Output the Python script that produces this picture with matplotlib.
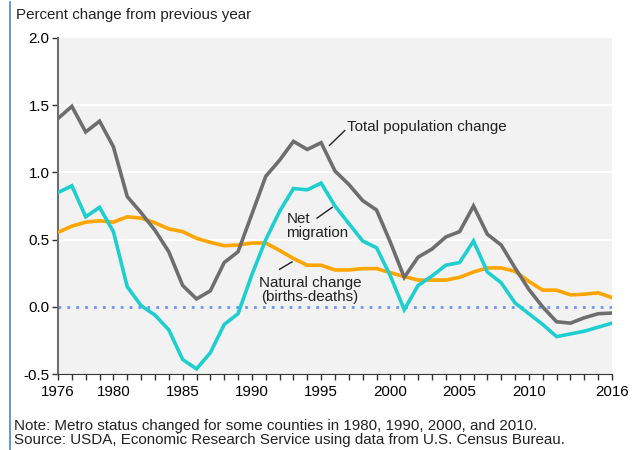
import matplotlib
matplotlib.use("Agg")
import matplotlib.pyplot as plt
from matplotlib.ticker import MultipleLocator

plt.rcParams["font.family"] = ["Liberation Sans", "DejaVu Sans"]

years = list(range(1976, 2017))

total_change = [1.40, 1.49, 1.30, 1.38, 1.19, 0.82, 0.70, 0.57, 0.41, 0.16,
                0.06, 0.12, 0.33, 0.41, 0.69, 0.97, 1.09, 1.23, 1.17, 1.22,
                1.01, 0.91, 0.79, 0.72, 0.48, 0.22, 0.37, 0.43, 0.52, 0.56,
                0.75, 0.54, 0.46, 0.29, 0.13, 0.00, -0.11, -0.12, -0.08, -0.05,
                -0.045]

net_migration = [0.85, 0.90, 0.67, 0.74, 0.56, 0.15, 0.01, -0.06, -0.17, -0.39,
                 -0.46, -0.34, -0.13, -0.05, 0.24, 0.50, 0.71, 0.88, 0.87, 0.92,
                 0.75, 0.62, 0.49, 0.44, 0.23, -0.02, 0.16, 0.23, 0.31, 0.33,
                 0.49, 0.26, 0.18, 0.03, -0.05, -0.13, -0.22, -0.20, -0.18, -0.15,
                 -0.12]

natural_change = [0.555, 0.60, 0.63, 0.64, 0.63, 0.67, 0.66, 0.625, 0.58, 0.56,
                  0.51, 0.48, 0.455, 0.46, 0.475, 0.475, 0.42, 0.36, 0.31, 0.31,
                  0.275, 0.275, 0.285, 0.285, 0.255, 0.225, 0.20, 0.20, 0.20, 0.22,
                  0.26, 0.29, 0.29, 0.265, 0.19, 0.125, 0.125, 0.09, 0.095, 0.105,
                  0.07]

year_labels = [1976, 1980, 1985, 1990, 1995, 2000, 2005, 2010, 2016]

GREY = "#6e6e6e"
CYAN = "#1fcfcf"
ORANGE = "#ffa500"
TXT = "#222222"
FS = 10.9

fig = plt.figure(figsize=(6.39, 4.5), dpi=100)
ax = fig.add_axes([58 / 639, 1 - 374.3 / 450, (612 - 58) / 639, (374.3 - 37.7) / 450])

ax.set_facecolor("#f2f2f2")
for y in [0.5, 1.0, 1.5]:
    ax.axhline(y, color="white", lw=1.5, zorder=1)
ax.axhline(0, color="#6f96f5", lw=2, linestyle=(0, (1, 2.2)), zorder=2)

ax.plot(years, natural_change, color=ORANGE, lw=2.6, zorder=3, solid_joinstyle="miter")
ax.plot(years, net_migration, color=CYAN, lw=2.6, zorder=4, solid_joinstyle="miter")
ax.plot(years, total_change, color=GREY, lw=2.6, zorder=5, solid_joinstyle="miter")

ax.set_xlim(1976, 2016)
ax.set_ylim(-0.5, 2.0)
ax.set_xticks(year_labels)
ax.xaxis.set_minor_locator(MultipleLocator(1))
ax.set_yticks([-0.5, 0.0, 0.5, 1.0, 1.5, 2.0])
ax.set_yticklabels(["-0.5", "0.0", "0.5", "1.0", "1.5", "2.0"])
ax.tick_params(axis="x", which="both", length=4, width=1, color="#333333",
               labelsize=FS, pad=4)
ax.tick_params(axis="y", length=4, width=1, color="#333333", labelsize=FS, pad=2)

for side in ["top", "right"]:
    ax.spines[side].set_visible(False)
ax.spines["left"].set_color("#6e6e6e")
ax.spines["left"].set_linewidth(1.5)
ax.spines["bottom"].set_color("#333333")

# annotations
ax.text(1996.9, 1.34, "Total population change", fontsize=FS, ha="left", va="center",
        color=TXT, zorder=6)
ax.plot([1995.6, 1996.7], [1.20, 1.31], color=TXT, lw=1, zorder=6)

ax.text(1992.5, 0.60, "Net\nmigration", fontsize=FS, ha="left", va="center",
        color=TXT, linespacing=1.05, zorder=6)
ax.plot([1994.7, 1995.8], [0.66, 0.74], color=TXT, lw=1, zorder=6)

ax.text(1994.2, 0.125, "Natural change\n(births-deaths)", fontsize=FS, ha="center",
        va="center", color=TXT, linespacing=1.05, zorder=6)
ax.plot([1992.0, 1992.9], [0.28, 0.335], color=TXT, lw=1, zorder=6)

fig.text(16 / 639, 1 - 15 / 450, "Percent change from previous year", fontsize=FS,
         ha="left", va="center", color=TXT)
fig.text(14 / 639, 1 - 426 / 450,
         "Note: Metro status changed for some counties in 1980, 1990, 2000, and 2010.",
         fontsize=FS, ha="left", va="center", color=TXT)
fig.text(14 / 639, 1 - 440 / 450,
         "Source: USDA, Economic Research Service using data from U.S. Census Bureau.",
         fontsize=FS, ha="left", va="center", color=TXT)

fig.add_artist(plt.Line2D([9.5 / 639, 9.5 / 639], [0, 0.995], color="#4a86c8", lw=1.2))

fig.savefig("out.png", dpi=100)
